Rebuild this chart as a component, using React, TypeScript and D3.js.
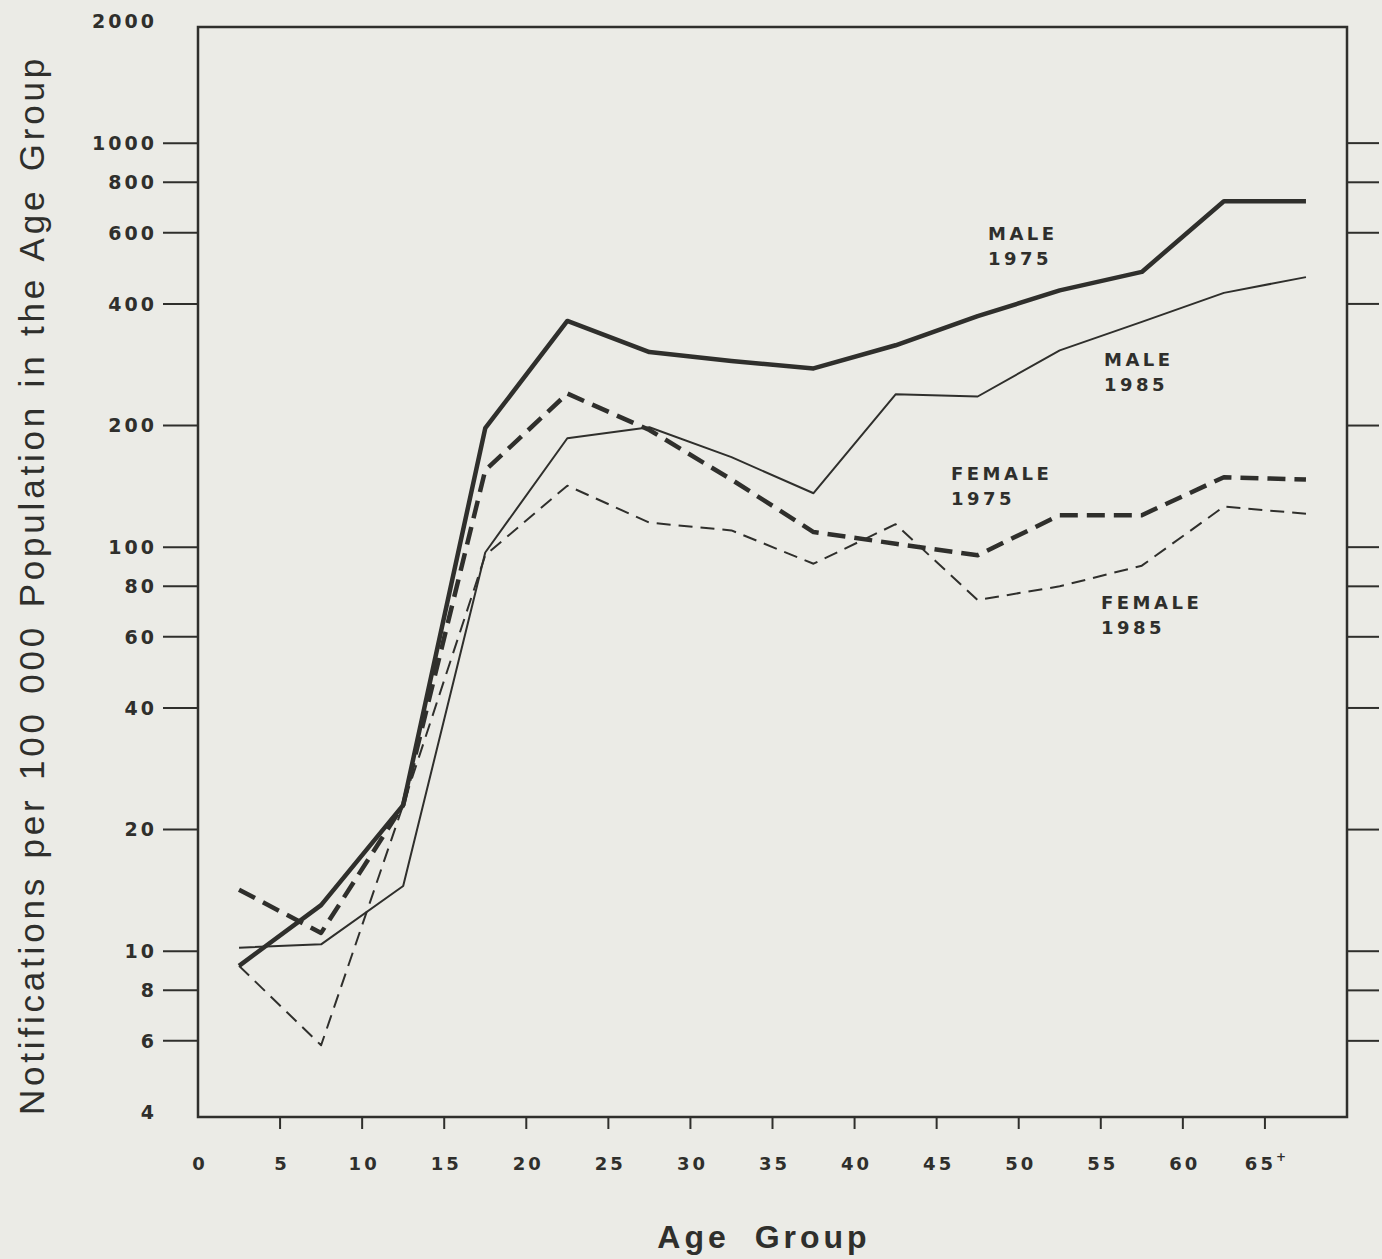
import React from "react";
import * as d3 from "d3";

const ageMidpoints = [2.5, 7.5, 12.5, 17.5, 22.5, 27.5, 32.5, 37.5, 42.5, 47.5, 52.5, 57.5, 62.5, 67.5];
const male1975 = [9.2, 13.0, 23, 197, 363, 304, 289, 277, 316, 373, 432, 480, 718, 718];
const male1985 = [10.2, 10.4, 14.5, 97, 186, 198, 167, 136, 239, 236, 307, 361, 426, 466];
const female1975 = [14.2, 11.1, 23, 155, 240, 195, 147, 109, 102, 95.5, 120, 120, 149, 147];
const female1985 = [9.2, 5.85, 23, 95.5, 142, 115, 110, 91, 114, 74, 80, 90, 126, 121];

const yTickValues = [1000, 800, 600, 400, 200, 100, 80, 60, 40, 20, 10, 8, 6];
const yLabelValues = [2000, 1000, 800, 600, 400, 200, 100, 80, 60, 40, 20, 10, 8, 6, 4];
const xTickValues = [5, 10, 15, 20, 25, 30, 35, 40, 45, 50, 55, 60, 65];
const xLabelValues = [0, 5, 10, 15, 20, 25, 30, 35, 40, 45, 50, 55, 60, 65];

const W = 1382;
const H = 1259;
const left = 198;
const right = 1347;
const top = 27;
const bottom = 1117;
const ink = "#2f2f2c";
const bg = "#ebebe6";

export default function App() {
  const x = d3.scaleLinear().domain([0, 70]).range([left, right]);
  const y = d3.scaleLog().domain([4, 2000]).range([1112, 21.5]);
  const line = d3
    .line<number>()
    .x((_, i) => x(ageMidpoints[i]))
    .y((d) => y(d));

  const series = [
    { data: male1975, width: 4.5, dash: "none" },
    { data: male1985, width: 2, dash: "none" },
    { data: female1975, width: 4.5, dash: "18 9" },
    { data: female1985, width: 2, dash: "14 8" },
  ];

  const labels = [
    { lines: ["MALE", "1975"], x: 988, y: 240 },
    { lines: ["MALE", "1985"], x: 1104, y: 366 },
    { lines: ["FEMALE", "1975"], x: 951, y: 480 },
    { lines: ["FEMALE", "1985"], x: 1101, y: 609 },
  ];

  const tickFont = "'DejaVu Sans', 'Liberation Sans', Arial, sans-serif";
  const titleFont = "'Liberation Sans', Arial, sans-serif";

  return (
    <svg
      width={W}
      height={H}
      style={{ position: "absolute", left: 0, top: 0, background: bg, display: "block" }}
    >
      <rect x={0} y={0} width={W} height={H} fill={bg} />
      <rect x={left} y={top} width={right - left} height={bottom - top} fill="none" stroke={ink} strokeWidth={2.5} />
      {yTickValues.map((v) => (
        <g key={"yt" + v}>
          <line x1={left - 35} x2={left} y1={y(v)} y2={y(v)} stroke={ink} strokeWidth={2} />
          <line x1={right} x2={right + 32} y1={y(v)} y2={y(v)} stroke={ink} strokeWidth={2} />
        </g>
      ))}
      {yLabelValues.map((v) => (
        <text
          key={"yl" + v}
          x={157}
          y={y(v)}
          dy="0.36em"
          textAnchor="end"
          fontFamily={tickFont}
          fontWeight="bold"
          fontSize={19}
          letterSpacing={3}
          fill={ink}
        >
          {v}
        </text>
      ))}
      {xTickValues.map((v) => (
        <line key={"xt" + v} x1={x(v)} x2={x(v)} y1={bottom} y2={bottom + 12} stroke={ink} strokeWidth={2} />
      ))}
      {xLabelValues.map((v) => (
        <text
          key={"xl" + v}
          x={x(v) + 2}
          y={1170}
          textAnchor="middle"
          fontFamily={tickFont}
          fontWeight="bold"
          fontSize={18}
          letterSpacing={3}
          fill={ink}
        >
          {v}
          {v === 65 ? (
            <tspan dy={-9} fontSize={12}>
              +
            </tspan>
          ) : null}
        </text>
      ))}
      {series.map((s, i) => (
        <path
          key={"s" + i}
          d={line(s.data) || ""}
          fill="none"
          stroke={ink}
          strokeWidth={s.width}
          strokeDasharray={s.dash}
          strokeLinejoin="round"
          strokeLinecap="butt"
        />
      ))}
      {labels.map((l, i) => (
        <text
          key={"lab" + i}
          x={l.x}
          y={l.y}
          fontFamily={tickFont}
          fontWeight="bold"
          fontSize={18}
          letterSpacing={3.5}
          fill={ink}
        >
          {l.lines.map((t, j) => (
            <tspan key={j} x={l.x} dy={j === 0 ? 0 : 25}>
              {t}
            </tspan>
          ))}
        </text>
      ))}
      <text
        transform={`translate(44, 585) rotate(-90)`}
        textAnchor="middle"
        fontFamily={titleFont}
        fontSize={35}
        letterSpacing={3.8}
        wordSpacing={3}
        fill={ink}
      >
        Notifications per 100 000 Population in the Age Group
      </text>
      <text
        x={764}
        y={1248}
        textAnchor="middle"
        fontFamily={titleFont}
        fontWeight="bold"
        fontSize={32}
        letterSpacing={4}
        wordSpacing={12}
        fill={ink}
      >
        Age Group
      </text>
    </svg>
  );
}
